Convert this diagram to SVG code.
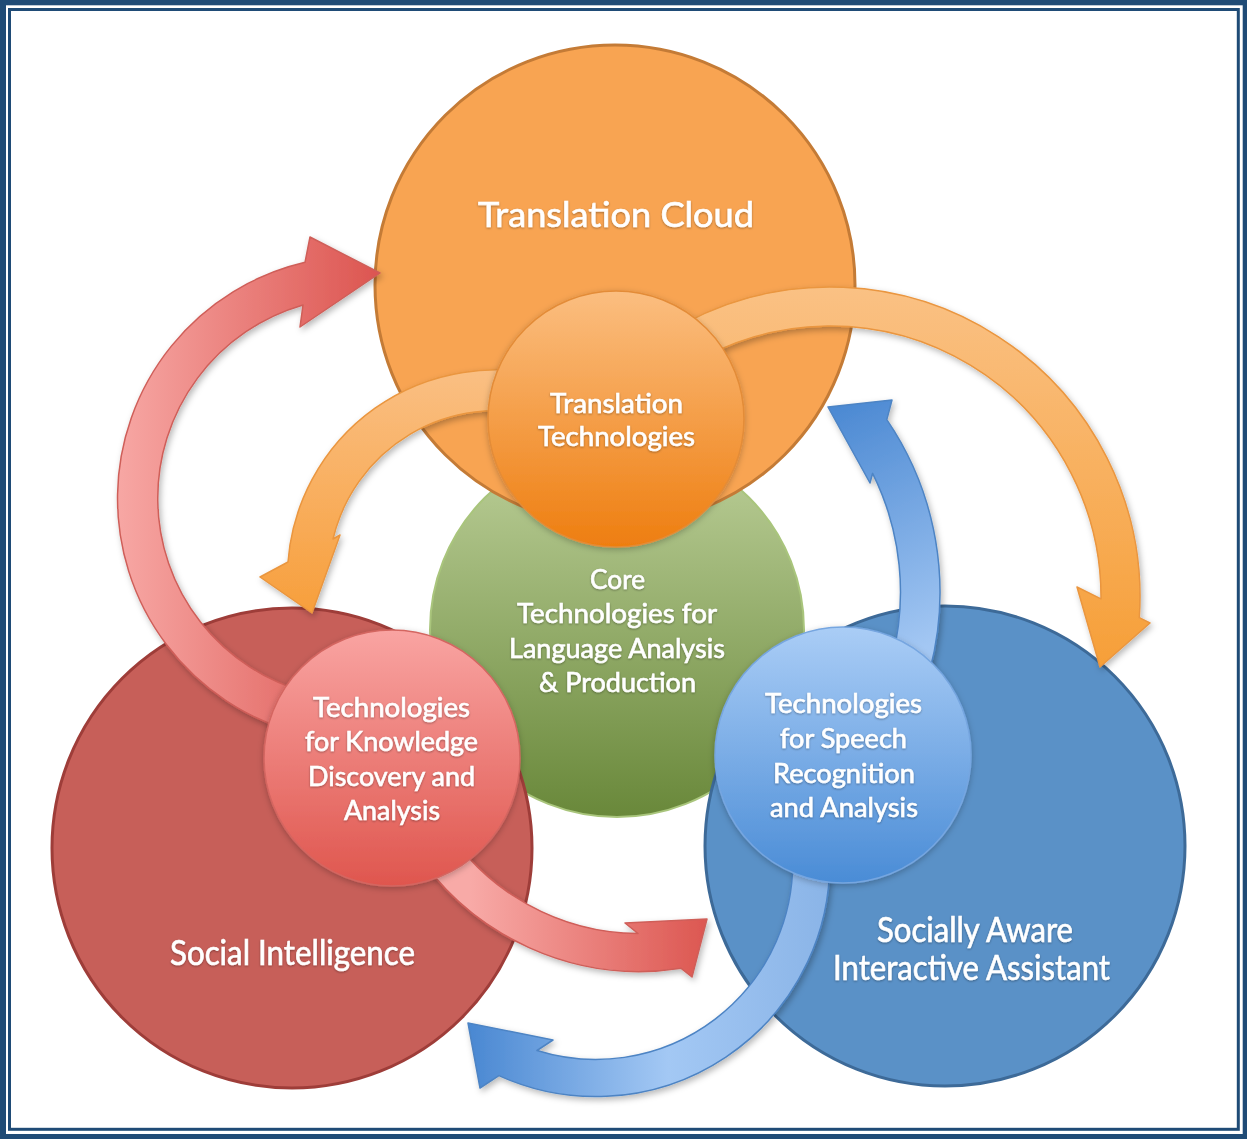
<svg xmlns="http://www.w3.org/2000/svg" width="1247" height="1139" viewBox="0 0 1247 1139">
<defs>
<style>
.big{stroke-width:3}
.lbl{font-family:Lato,"Open Sans","Liberation Sans",sans-serif;fill:#ffffff;stroke:#ffffff;stroke-width:0.6;text-anchor:middle;filter:url(#ts)}
.lg{font-size:34px}
.sm{font-size:26px}
.arw{stroke-width:1.5;stroke-linejoin:round;filter:url(#sh)}
</style>
<filter id="sh" x="-20%" y="-20%" width="140%" height="140%"><feDropShadow dx="2" dy="3" stdDeviation="3" flood-color="#000" flood-opacity="0.28"/></filter>
<filter id="csh" x="-20%" y="-20%" width="140%" height="140%"><feDropShadow dx="0" dy="2" stdDeviation="3" flood-color="#000" flood-opacity="0.25"/></filter>
<filter id="ts" x="-10%" y="-30%" width="120%" height="160%"><feDropShadow dx="0" dy="1" stdDeviation="1" flood-color="#000" flood-opacity="0.35"/></filter>
<linearGradient id="gCore" x1="0" y1="0" x2="0" y2="1"><stop offset="0" stop-color="#bdd09a"/><stop offset="1" stop-color="#69883a"/></linearGradient>
<linearGradient id="gTT" x1="0" y1="0" x2="0" y2="1"><stop offset="0" stop-color="#fbbe80"/><stop offset="1" stop-color="#ee7e10"/></linearGradient>
<linearGradient id="gKD" x1="0" y1="0" x2="0" y2="1"><stop offset="0" stop-color="#f9a4a2"/><stop offset="1" stop-color="#df564e"/></linearGradient>
<linearGradient id="gSR" x1="0" y1="0" x2="0" y2="1"><stop offset="0" stop-color="#aacdf6"/><stop offset="1" stop-color="#4a8cd6"/></linearGradient>
<linearGradient id="gA1" gradientUnits="userSpaceOnUse" x1="118" y1="0" x2="380" y2="0"><stop offset="0" stop-color="#f7a7a4"/><stop offset="1" stop-color="#dc5550"/></linearGradient>
<linearGradient id="gA2" gradientUnits="userSpaceOnUse" x1="0" y1="370" x2="0" y2="613"><stop offset="0" stop-color="#fabf83"/><stop offset="1" stop-color="#f79f3c"/></linearGradient>
<linearGradient id="gA3" gradientUnits="userSpaceOnUse" x1="0" y1="287" x2="0" y2="667"><stop offset="0" stop-color="#fac184"/><stop offset="1" stop-color="#f69f38"/></linearGradient>
<linearGradient id="gA4" gradientUnits="userSpaceOnUse" x1="830" y1="405" x2="940" y2="640"><stop offset="0" stop-color="#4a88d2"/><stop offset="1" stop-color="#a3c7f3"/></linearGradient>
<linearGradient id="gA5" gradientUnits="userSpaceOnUse" x1="470" y1="0" x2="707" y2="0"><stop offset="0" stop-color="#f8aaa7"/><stop offset="1" stop-color="#dc5751"/></linearGradient>
<linearGradient id="gA6" gradientUnits="userSpaceOnUse" x1="470" y1="0" x2="830" y2="0"><stop offset="0" stop-color="#4a88d2"/><stop offset="0.55" stop-color="#a3c8f4"/><stop offset="1" stop-color="#8ab4e7"/></linearGradient>
</defs>

<g id="frame">
<rect x="0" y="0" width="1247" height="1139" fill="#1f4b76"/>
<rect x="6" y="5.3" width="1236.7" height="1128.7" fill="#ffffff"/>
<rect x="9.5" y="9.5" width="1228.8" height="1119.8" fill="none" stroke="#1f4b76" stroke-width="3"/>
</g>

<g id="core">
<circle cx="617" cy="630" r="187" fill="url(#gCore)" stroke="#a9c57c" stroke-width="2"/>
</g>
<g id="translation-cloud">
<circle class="big" cx="615" cy="285" r="240" fill="#f8a452" stroke="#c47b36"/>
</g>
<g id="social-intelligence">
<circle class="big" cx="292" cy="848" r="240" fill="#c75f59" stroke="#9e3d39"/>
</g>
<g id="socially-aware">
<circle class="big" cx="945" cy="846" r="240" fill="#5a91c7" stroke="#3d6a98"/>
</g>

<g id="connectors">
<path id="arrow-kd-tc" class="arw" fill="url(#gA1)" stroke="#cf5e59" d="M 297.2 732.7 A 242.5 242.5 0 0 1 305 262.3 L 310 237 L 380 273 L 300 327 L 303 305 A 201 201 0 0 0 308 692.6 Z"/>
<path id="arrow-tt-si" class="arw" fill="url(#gA2)" stroke="#ea963f" d="M 549 377 A 207.8 207.8 0 0 0 288 562 L 260 577 L 312 613 L 340 535 L 333 539 A 167 167 0 0 1 538.4 416.5 Z"/>
<path id="arrow-tt-sa" class="arw" fill="url(#gA3)" stroke="#ea963f" d="M 684.5 323.3 A 310 310 0 0 1 1139.3 617.7 L 1150 623 L 1100 667 L 1077 587 L 1101 598.8 A 271 271 0 0 0 702.8 357.7 Z"/>
<path id="arrow-sr-tc" class="arw" fill="url(#gA4)" stroke="#4d84c4" d="M 891.7 660 A 267 267 0 0 0 872.6 473.3 L 870 483 L 828 407 L 892 400 L 886.8 419.6 A 306.5 306.5 0 0 1 929.9 670.1 Z"/>
<path id="arrow-kd-sa" class="arw" fill="url(#gA5)" stroke="#cf5e59" d="M 445 826.5 A 231 231 0 0 0 638 933.5 L 625 923 L 707 919 L 692 977 L 681.2 968.3 A 269 269 0 0 1 412.9 847 Z"/>
<path id="arrow-sr-si" class="arw" fill="url(#gA6)" stroke="#4d84c4" d="M 829.6 854.3 A 234 234 0 0 1 498.9 1075.6 L 480 1088 L 468 1023 L 553 1040 L 537 1050.5 A 197 197 0 0 0 792.6 855.6 Z"/>
</g>

<g id="translation-technologies">
<circle cx="616" cy="419" r="128" fill="url(#gTT)" stroke="#e38c38" stroke-width="1.5" filter="url(#csh)"/>
</g>
<g id="knowledge-discovery">
<circle cx="392" cy="758" r="128" fill="url(#gKD)" stroke="#d46661" stroke-width="1.5" filter="url(#csh)"/>
</g>
<g id="speech-recognition">
<circle cx="843" cy="755" r="128" fill="url(#gSR)" stroke="#76a6e0" stroke-width="1.5" filter="url(#csh)"/>
</g>

<g id="labels">
<text class="lbl lg" x="616" y="227" textLength="276" lengthAdjust="spacingAndGlyphs">Translation Cloud</text>
<text class="lbl lg" x="292.5" y="965" textLength="245" lengthAdjust="spacingAndGlyphs">Social Intelligence</text>
<text class="lbl lg" x="975" y="942" textLength="196" lengthAdjust="spacingAndGlyphs">Socially Aware</text>
<text class="lbl lg" x="971.5" y="980" textLength="277" lengthAdjust="spacingAndGlyphs">Interactive Assistant</text>

<text class="lbl sm" x="616.5" y="413" textLength="133" lengthAdjust="spacingAndGlyphs">Translation</text>
<text class="lbl sm" x="616.5" y="446" textLength="157" lengthAdjust="spacingAndGlyphs">Technologies</text>

<text class="lbl sm" x="617.5" y="589" textLength="55" lengthAdjust="spacingAndGlyphs">Core</text>
<text class="lbl sm" x="617" y="623" textLength="200" lengthAdjust="spacingAndGlyphs">Technologies for</text>
<text class="lbl sm" x="617" y="658" textLength="216" lengthAdjust="spacingAndGlyphs">Language Analysis</text>
<text class="lbl sm" x="617.5" y="692" textLength="157" lengthAdjust="spacingAndGlyphs">&amp; Production</text>

<text class="lbl sm" x="391.5" y="717" textLength="157" lengthAdjust="spacingAndGlyphs">Technologies</text>
<text class="lbl sm" x="391.5" y="751" textLength="173" lengthAdjust="spacingAndGlyphs">for Knowledge</text>
<text class="lbl sm" x="391.5" y="786" textLength="167" lengthAdjust="spacingAndGlyphs">Discovery and</text>
<text class="lbl sm" x="392" y="820" textLength="96" lengthAdjust="spacingAndGlyphs">Analysis</text>

<text class="lbl sm" x="843.5" y="713" textLength="157" lengthAdjust="spacingAndGlyphs">Technologies</text>
<text class="lbl sm" x="843.5" y="748" textLength="127" lengthAdjust="spacingAndGlyphs">for Speech</text>
<text class="lbl sm" x="844" y="783" textLength="142" lengthAdjust="spacingAndGlyphs">Recognition</text>
<text class="lbl sm" x="844" y="817" textLength="148" lengthAdjust="spacingAndGlyphs">and Analysis</text>
</g>
</svg>
